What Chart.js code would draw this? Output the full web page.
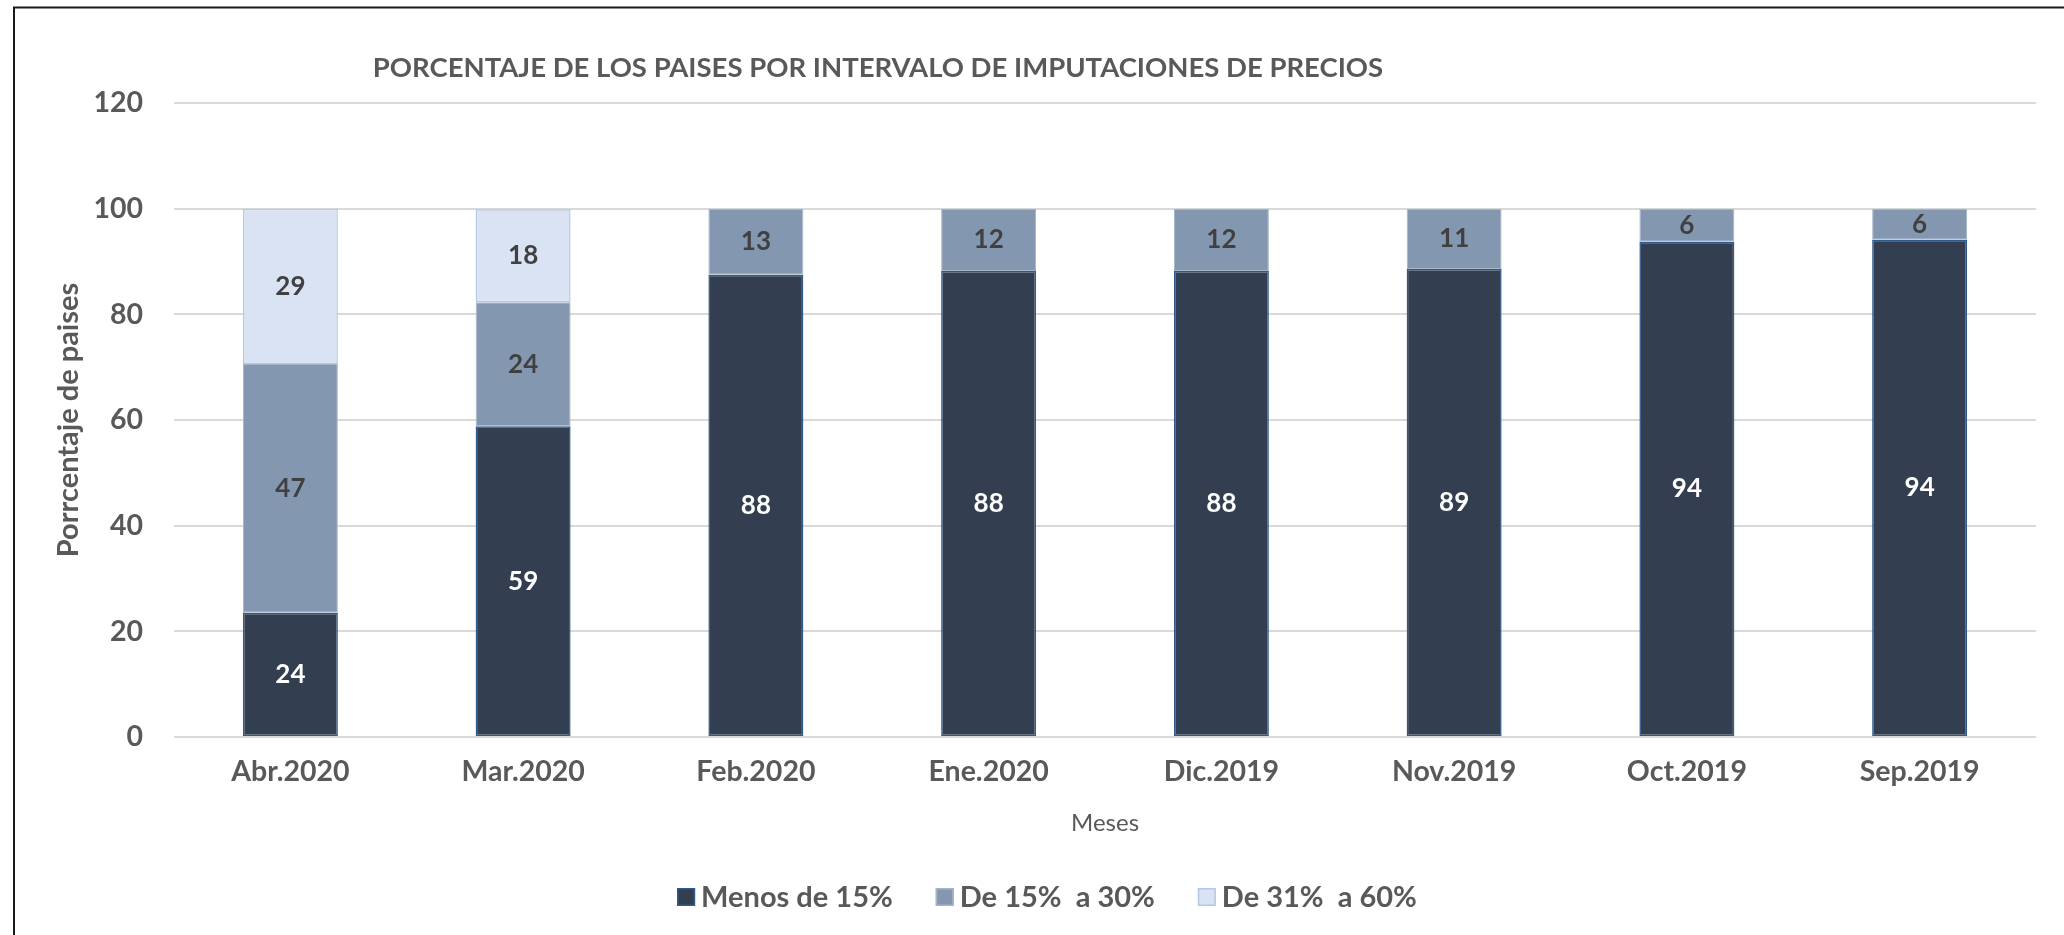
<!DOCTYPE html>
<html><head><meta charset="utf-8">
<script src="https://cdn.jsdelivr.net/npm/chart.js@4.4.1/dist/chart.umd.min.js"></script>
<style>html,body{margin:0;padding:0;background:#fff;overflow:hidden}
#wrap{position:relative;width:2064px;height:935px}</style>
</head><body><div id="wrap"><canvas id="c" width="2064" height="935"></canvas></div>
<script>
const categories = ['Abr.2020','Mar.2020','Feb.2020','Ene.2020','Dic.2019','Nov.2019','Oct.2019','Sep.2019'];
const seriesNames = ['Menos de 15%','De 15%  a 30%','De 31%  a 60%'];
const menos15 = [23.5, 58.8, 87.5, 88.2, 88.2, 88.6, 93.75, 94.1];
const de15a30 = [47.1, 23.5, 12.5, 11.8, 11.8, 11.4, 6.25, 5.9];
const de31a60 = [29.4, 17.6, null, null, null, null, null, null];
const yTickValues = [0, 20, 40, 60, 80, 100, 120];
const chartTitle = 'PORCENTAJE DE LOS PAISES POR INTERVALO DE IMPUTACIONES DE PRECIOS';
const yTitle = 'Porrcentaje de paises';
const xTitle = 'Meses';

const FONT = 'Lato';
const TXT = '#595959';
const fills = ['#333F50', '#8497B0', '#DAE3F3'];
const borders = ['#2E5A8C', '#A7B5C8', '#B4C7E7'];
const labelColors = ['#FFFFFF', '#404040', '#404040'];

const framePlugin = {
  id: 'frame',
  beforeDraw(chart) {
    const ctx = chart.ctx;
    ctx.save();
    ctx.fillStyle = '#fff';
    ctx.fillRect(0, 0, chart.width, chart.height);
    ctx.strokeStyle = '#1a1a1a';
    ctx.lineWidth = 2;
    ctx.beginPath();
    ctx.moveTo(14, chart.height);
    ctx.lineTo(14, 7.5);
    ctx.lineTo(chart.width, 7.5);
    ctx.stroke();
    ctx.restore();
  }
};

const titlePlugin = {
  id: 'customTitle',
  afterDraw(chart) {
    const ctx = chart.ctx;
    ctx.save();
    ctx.font = 'bold 27.5px ' + FONT;
    ctx.fillStyle = TXT;
    ctx.textAlign = 'center';
    ctx.textBaseline = 'middle';
    ctx.fillText(chartTitle, 878, 68);
    ctx.restore();
  }
};

const valueLabels = {
  id: 'valueLabels',
  afterDatasetsDraw(chart) {
    const ctx = chart.ctx;
    ctx.save();
    ctx.font = 'bold 26px ' + FONT;
    ctx.textAlign = 'center';
    ctx.textBaseline = 'middle';
    chart.data.datasets.forEach((ds, i) => {
      const meta = chart.getDatasetMeta(i);
      meta.data.forEach((el, j) => {
        const v = ds.data[j];
        if (v === null || v === undefined) return;
        ctx.fillStyle = labelColors[i];
        ctx.fillText(String(Math.round(v)), el.x, (el.y + el.base) / 2);
      });
    });
    ctx.restore();
  }
};

const legendPlugin = {
  id: 'customLegend',
  afterDraw(chart) {
    const ctx = chart.ctx;
    ctx.save();
    ctx.font = 'bold 29px ' + FONT;
    const box = 18, gap = 6, spacing = 43;
    const items = chart.data.datasets.map((ds, i) => ({
      text: ds.label, w: box + gap + ctx.measureText(ds.label).width, i
    }));
    const total = items.reduce((s, it) => s + it.w, 0) + spacing * (items.length - 1);
    let x = 1047 - total / 2;
    const cy = 897;
    items.forEach(it => {
      ctx.fillStyle = fills[it.i];
      ctx.fillRect(x, cy - box / 2, box, box);
      ctx.strokeStyle = borders[it.i];
      ctx.lineWidth = 1.5;
      ctx.strokeRect(x + 0.75, cy - box / 2 + 0.75, box - 1.5, box - 1.5);
      ctx.fillStyle = TXT;
      ctx.textAlign = 'left';
      ctx.textBaseline = 'middle';
      ctx.fillText(it.text, x + box + gap, cy + 1);
      x += it.w + spacing;
    });
    ctx.restore();
  }
};

const seriesData = [menos15, de15a30, de31a60];
new Chart(document.getElementById('c'), {
  type: 'bar',
  data: {
    labels: categories,
    datasets: seriesData.map((d, i) => ({
      label: seriesNames[i],
      data: d,
      backgroundColor: fills[i],
      borderColor: borders[i],
      borderWidth: i === 1 ? 1 : 1.5,
      borderSkipped: false,
      categoryPercentage: 1,
      barPercentage: 0.408
    }))
  },
  options: {
    responsive: false,
    animation: false,
    devicePixelRatio: 1,
    layout: { padding: { left: 14, right: 28, top: 103, bottom: 0 } },
    plugins: {
      legend: { display: false },
      title: { display: false },
      tooltip: { enabled: false }
    },
    scales: {
      x: {
        stacked: true,
        grid: { display: false, drawTicks: false },
        border: { display: false },
        ticks: { color: TXT, font: { family: FONT, size: 28.5, weight: 'bold' }, padding: 18 },
        title: { display: true, text: xTitle, color: TXT, font: { family: FONT, size: 24, weight: 'normal' }, padding: { top: 0, bottom: 97 } },
        afterFit(scale) { scale.height = 935 - 737; }
      },
      y: {
        stacked: true,
        min: 0, max: 120,
        afterBuildTicks(scale) { scale.ticks = yTickValues.map(v => ({ value: v })); },
        grid: { color: '#D9D9D9', lineWidth: 2, drawTicks: false },
        border: { display: false },
        ticks: { color: TXT, font: { family: FONT, size: 28.5, weight: 'bold' }, padding: 31 },
        title: { display: true, text: yTitle, color: TXT, font: { family: FONT, size: 29, weight: 'bold' }, padding: { top: 37, bottom: 0 } },
        afterFit(scale) { scale.width = 160; }
      }
    }
  },
  plugins: [framePlugin, valueLabels, titlePlugin, legendPlugin]
});
</script>
</body></html>
